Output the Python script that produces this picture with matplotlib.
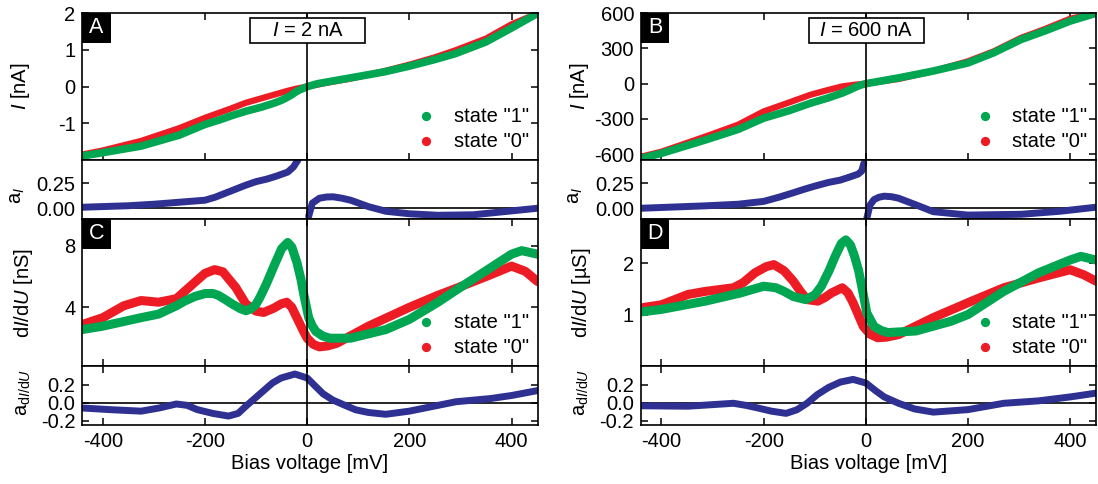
import matplotlib
matplotlib.use("Agg")
import matplotlib.pyplot as plt
from matplotlib.patches import Rectangle

plt.rcParams['font.family'] = ['Liberation Sans', 'DejaVu Sans']
plt.rcParams['mathtext.fontset'] = 'custom'
plt.rcParams['mathtext.rm'] = 'Liberation Sans'
plt.rcParams['mathtext.it'] = 'Liberation Sans:italic'
plt.rcParams['axes.unicode_minus'] = False

GREEN = '#00a651'
RED = '#ed1c24'
BLUE = '#2e3192'
FS = 14.5

# -------- DATA --------
# panel A: I-V at I = 2 nA
vA_green = [-440, -400, -325, -250, -200, -170, -150, -120, -90, -65, -50, -40, -30, -24, -15, -10, 0, 20, 40, 85,
            150, 200, 250, 290, 350, 400, 451]
iA_green = [-1.89, -1.80, -1.62, -1.32, -1.03, -0.90, -0.80, -0.67, -0.56, -0.45, -0.37, -0.30, -0.22, -0.16,
            -0.09, -0.06, 0.0, 0.08, 0.13, 0.24, 0.40, 0.56, 0.74, 0.90, 1.22, 1.60, 2.0]
vA_red = [-440, -400, -325, -250, -200, -170, -150, -120, -90, -65, -40, -20, 0, 40, 85, 150, 200, 250, 290, 350,
          400, 451]
iA_red = [-1.85, -1.74, -1.48, -1.13, -0.85, -0.70, -0.60, -0.44, -0.32, -0.22, -0.12, -0.05, 0.0,
          0.11, 0.22, 0.42, 0.60, 0.80, 0.99, 1.31, 1.70, 2.0]

# asymmetry of I (panel A), two branches
vA_asym_neg = [-440, -350, -300, -250, -200, -180, -160, -140, -120, -100, -79, -60, -38, -27, -18]
aA_asym_neg = [0.01, 0.025, 0.04, 0.06, 0.08, 0.11, 0.15, 0.19, 0.23, 0.265, 0.29, 0.32, 0.36, 0.41, 0.48]
vA_asym_pos = [3, 10, 24, 38, 51, 68, 85, 120, 154, 200, 256, 325, 393, 451]
aA_asym_pos = [-0.08, 0.05, 0.10, 0.112, 0.114, 0.10, 0.08, 0.016, -0.03, -0.055, -0.07, -0.065, -0.03, 0.0]

# panel B: I-V at I = 600 nA
vB_green = [-440, -400, -314, -250, -200, -150, -108, -75, -46, -30, -20, -10, 0, 64, 130, 200, 250, 304, 350,
            400, 450]
iB_green = [-637, -594, -480, -390, -294, -230, -166, -123, -80, -50, -29, -12, 0, 49, 106, 177, 263, 377, 449,
            534, 600]
vB_red = [-440, -400, -314, -250, -200, -150, -108, -75, -46, -20, 0, 64, 130, 200, 250, 304, 350, 400, 450]
iB_red = [-623, -580, -451, -350, -237, -160, -94, -55, -23, -8, 0, 40, 105, 191, 275, 391, 465, 554, 600]

vB_asym_neg = [-440, -314, -250, -200, -170, -142, -120, -100, -73, -50, -32, -15, -8, -4]
aB_asym_neg = [0.0, 0.024, 0.04, 0.068, 0.11, 0.154, 0.19, 0.22, 0.257, 0.28, 0.31, 0.34, 0.37, 0.445]
vB_asym_pos = [2, 8, 16, 26, 36, 50, 64, 98, 132, 200, 304, 380, 450]
aB_asym_pos = [-0.10, 0.03, 0.086, 0.11, 0.12, 0.115, 0.10, 0.034, -0.034, -0.068, -0.06, -0.03, 0.01]

# panel C: dI/dU [nS]
vC_green = [-440, -400, -325, -291, -256, -240, -220, -200, -185, -174, -160, -147, -130, -120, -110, -100, -92,
            -80, -65, -50, -38, -30, -20, -12, -7, 0, 3, 10, 17, 30, 44, 85,
            154, 200, 256, 291, 359, 400, 420, 451]
gC_green = [2.56, 2.78, 3.33, 3.56, 4.1, 4.4, 4.7, 4.89, 4.9, 4.78, 4.5, 4.22, 3.9, 3.78, 3.9, 4.2, 4.67,
            5.5, 6.67, 7.8, 8.2, 7.9, 6.9, 5.8, 4.9, 3.8, 3.33, 2.8, 2.44, 2.15, 2.0, 2.0,
            2.56, 3.22, 4.33, 5.1, 6.56, 7.44, 7.67, 7.44]
vC_red = [-440, -400, -359, -325, -291, -256, -222, -200, -181, -165, -140, -120, -100, -85, -65, -51, -40, -30,
          -17, -8, 0, 12, 24, 40, 58, 120,
          200, 256, 291, 359, 400, 427, 451]
gC_red = [2.89, 3.33, 4.1, 4.44, 4.33, 4.56, 5.56, 6.2, 6.44, 6.3, 5.3, 4.22, 3.75, 3.67, 3.95, 4.22, 4.33, 4.0,
          3.11, 2.5, 2.0, 1.6, 1.44, 1.5, 1.67, 2.78,
          4.0, 4.78, 5.22, 6.11, 6.67, 6.33, 5.67]

vC_asym = [-440, -380, -325, -290, -256, -235, -215, -185, -154, -135, -120, -100, -85, -68, -51, -24, 0, 15, 31,
           50, 72, 95, 120, 154, 200, 291, 359, 400, 451]
aC_asym = [-0.06, -0.08, -0.095, -0.06, -0.015, -0.03, -0.078, -0.12, -0.15, -0.12, -0.04, 0.06, 0.135, 0.22,
           0.276, 0.32, 0.276, 0.19, 0.10, 0.03, -0.025, -0.08, -0.11, -0.13,
           -0.095, 0.01, 0.046, 0.08, 0.135]

# panel D: dI/dU [uS]
vD_green = [-440, -400, -314, -245, -200, -176, -160, -142, -118, -100, -87, -72, -60, -48, -39, -30, -22, -14, -8,
            2, 16, 30, 43, 98, 167, 200, 270, 338, 400, 421, 450]
gD_green = [1.05, 1.10, 1.26, 1.42, 1.55, 1.52, 1.45, 1.35, 1.29, 1.38, 1.55, 1.85, 2.13, 2.38, 2.45, 2.35, 2.13,
            1.85, 1.55, 1.03, 0.77, 0.69, 0.65, 0.68, 0.87, 1.0, 1.45, 1.81, 2.06, 2.13, 2.06]
vD_red = [-440, -400, -348, -314, -259, -240, -217, -195, -180, -160, -142, -128, -115, -94, -80, -67, -46, -35,
          -25, -15, -5, 8, 23, 40, 64, 132, 200, 270, 338, 400, 427, 450]
gD_red = [1.13, 1.19, 1.39, 1.45, 1.52, 1.62, 1.81, 1.93, 1.97, 1.85, 1.65, 1.45, 1.29, 1.26, 1.33, 1.42, 1.52,
          1.42, 1.23, 1.0, 0.77, 0.62, 0.55, 0.56, 0.61, 0.94, 1.23, 1.52, 1.71, 1.87, 1.77, 1.65]

vD_asym = [-440, -348, -259, -235, -211, -185, -156, -135, -115, -95, -73, -50, -25, 0, 20, 36, 64, 95, 132, 200,
           270, 338, 400, 450]
aD_asym = [-0.035, -0.04, -0.007, -0.03, -0.06, -0.095, -0.12, -0.08, -0.007, 0.09, 0.17, 0.23, 0.26, 0.22, 0.13,
           0.064, -0.007, -0.07, -0.106, -0.078, -0.007, 0.02, 0.064, 0.106]

# -------- LAYOUT --------
fig = plt.figure(figsize=(10.98, 4.84), dpi=100)
col_x = [0.075, 0.5838]
col_w = 0.4146
rows = [(0.6694, 0.3031), (0.5469, 0.1225), (0.2438, 0.3031), (0.1219, 0.1219)]
XLIM = (-440, 451)


def style(ax, xticks_top, xticks_bottom):
    for s in ax.spines.values():
        s.set_linewidth(1.2)
    ax.set_xlim(*XLIM)
    ax.set_xticks([-400, -200, 0, 200, 400])
    ax.tick_params(axis='both', direction='in', length=5, width=1.1, labelsize=FS, pad=5,
                   left=True, right=True, top=xticks_top, bottom=xticks_bottom,
                   labelbottom=False)
    ax.axvline(0, color='black', lw=1.2, zorder=5)


def panel_box(ax, letter):
    ax.add_patch(Rectangle((0, 0.8), 0.0624, 0.2, transform=ax.transAxes, facecolor='black',
                           edgecolor='none', zorder=10, clip_on=False))
    ax.text(0.031, 0.9, letter, transform=ax.transAxes, color='white', fontsize=FS + 1,
            ha='center', va='center', zorder=11)


def legend(ax):
    for yy, col, lab in [(0.297, GREEN, 'state "1"'), (0.127, RED, 'state "0"')]:
        ax.scatter([0.755], [yy], s=32, color=col, transform=ax.transAxes, zorder=6, clip_on=False)
        ax.text(0.816, yy, lab, transform=ax.transAxes, fontsize=FS, ha='left', va='center')


def ylab(ax, text, x, y=0.5):
    ax.text(x, y, text, transform=ax.transAxes, rotation=90, ha='center', va='center', fontsize=FS)


panels = [
    dict(col=0, label='A', label2='C', title=r'$\mathit{I}$ = 2 nA',
         vg=vA_green, ig=iA_green, vr=vA_red, ir=iA_red, ylimI=(-2, 2), yticksI=[-1, 0, 1, 2],
         van=vA_asym_neg, aan=aA_asym_neg, vap=vA_asym_pos, aap=aA_asym_pos,
         vcg=vC_green, gcg=gC_green, vcr=vC_red, gcr=gC_red, ylimG=(0.2, 9.7), yticksG=[4, 8],
         unitG='nS', vca=vC_asym, aca=aC_asym),
    dict(col=1, label='B', label2='D', title=r'$\mathit{I}$ = 600 nA',
         vg=vB_green, ig=iB_green, vr=vB_red, ir=iB_red, ylimI=(-651, 600),
         yticksI=[-600, -300, 0, 300, 600],
         van=vB_asym_neg, aan=aB_asym_neg, vap=vB_asym_pos, aap=aB_asym_pos,
         vcg=vD_green, gcg=gD_green, vcr=vD_red, gcr=gD_red, ylimG=(0.0, 2.85), yticksG=[1, 2],
         unitG='µS', vca=vD_asym, aca=aD_asym),
]

for p in panels:
    x0 = col_x[p['col']]
    axI = fig.add_axes([x0, rows[0][0], col_w, rows[0][1]])
    axa = fig.add_axes([x0, rows[1][0], col_w, rows[1][1]])
    axG = fig.add_axes([x0, rows[2][0], col_w, rows[2][1]])
    axb = fig.add_axes([x0, rows[3][0], col_w, rows[3][1]])

    # I-V
    style(axI, True, True)
    axI.plot(p['vr'], p['ir'], color=RED, lw=4.5, solid_capstyle='round', solid_joinstyle='round')
    axI.plot(p['vg'], p['ig'], color=GREEN, lw=5.5, solid_capstyle='round', solid_joinstyle='round')
    axI.set_ylim(*p['ylimI'])
    axI.set_yticks(p['yticksI'])
    panel_box(axI, p['label'])
    legend(axI)
    axI.add_patch(Rectangle((0.3686, 0.797), 0.2524, 0.171, transform=axI.transAxes,
                            facecolor='white', edgecolor='black', lw=1.2, zorder=8))
    axI.text(0.495, 0.883, p['title'], transform=axI.transAxes, fontsize=FS,
             ha='center', va='center', zorder=9)
    ylab(axI, r'$\mathit{I}$ [nA]', -0.135)

    # asymmetry of I
    style(axa, False, False)
    axa.axhline(0, color='black', lw=1.2)
    axa.plot(p['van'], p['aan'], color=BLUE, lw=5, solid_capstyle='round', solid_joinstyle='round')
    axa.plot(p['vap'], p['aap'], color=BLUE, lw=5, solid_capstyle='round', solid_joinstyle='round')
    axa.set_ylim(-0.11, 0.48)
    axa.set_yticks([0.0, 0.25])
    axa.set_yticklabels(['0.00', '0.25'])
    ylab(axa, r'$\mathregular{a}_{\mathit{I}}$', -0.143, 0.4)

    # dI/dU
    style(axG, True, True)
    axG.plot(p['vcr'], p['gcr'], color=RED, lw=6.5, solid_capstyle='round', solid_joinstyle='round')
    axG.plot(p['vcg'], p['gcg'], color=GREEN, lw=6.5, solid_capstyle='round', solid_joinstyle='round')
    axG.set_ylim(*p['ylimG'])
    axG.set_yticks(p['yticksG'])
    panel_box(axG, p['label2'])
    legend(axG)
    ylab(axG, r'd$\mathit{I}$/d$\mathit{U}$ [' + p['unitG'] + ']', -0.13)

    # asymmetry of dI/dU
    style(axb, True, True)
    axb.axhline(0, color='black', lw=1.2)
    axb.plot(p['vca'], p['aca'], color=BLUE, lw=5, solid_capstyle='round', solid_joinstyle='round')
    axb.set_ylim(-0.25, 0.41)
    axb.set_yticks([-0.2, 0.0, 0.2])
    axb.set_yticklabels(['-0.2', '0.0', '0.2'])
    axb.tick_params(labelbottom=True)
    axb.set_xlabel('Bias voltage [mV]', fontsize=FS, labelpad=2)
    ylab(axb, r'$\mathregular{a}_{\mathregular{d}\mathit{I}\mathregular{/d}\mathit{U}}$', -0.13, 0.55)

fig.savefig('out.png', dpi=100)
